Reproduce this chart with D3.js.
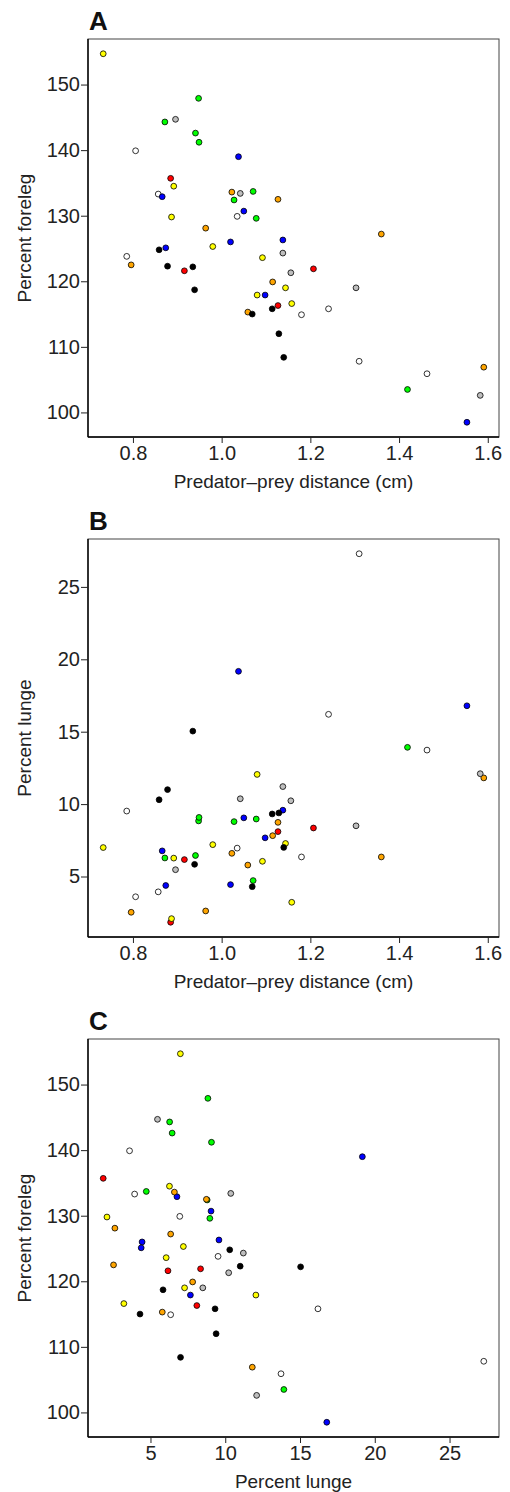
<!DOCTYPE html>
<html>
<head>
<meta charset="utf-8">
<script src="https://cdn.jsdelivr.net/npm/d3@7"></script>
<style>
  body { margin: 0; background: #fff; }
  text { font-family: "Liberation Sans", Arial, sans-serif; }
</style>
</head>
<body>
<script>
// one entry per animal, same order in every array
const distance = [0.733, 0.948, 0.872, 0.896, 0.941, 0.949, 0.806, 1.038, 0.885, 0.892,
  0.857, 0.866, 1.023, 1.042, 1.071, 1.028, 1.127, 1.050, 1.035, 1.078,
  0.887, 0.964, 1.020, 0.980, 1.360, 1.138, 0.786, 0.796, 0.859, 0.874,
  0.878, 0.916, 0.935, 0.939, 1.092, 1.115, 1.080, 1.098, 1.059, 1.069,
  1.114, 1.127, 1.129, 1.138, 1.207, 1.156, 1.144, 1.303, 1.158, 1.241,
  1.180, 1.140, 1.310, 1.591, 1.463, 1.419, 1.583, 1.553];
const foreleg = [154.7, 147.9, 144.3, 144.7, 142.6, 141.2, 139.9, 139.0, 135.7, 134.5,
  133.3, 132.9, 133.6, 133.4, 133.7, 132.4, 132.5, 130.7, 129.9, 129.6,
  129.8, 128.1, 126.0, 125.3, 127.2, 126.3, 123.8, 122.5, 124.8, 125.1,
  122.3, 121.6, 122.2, 118.7, 123.6, 119.9, 117.9, 117.9, 115.3, 115.0,
  115.8, 116.3, 112.0, 124.3, 121.9, 121.3, 119.0, 119.0, 116.6, 115.8,
  114.9, 108.4, 107.8, 106.9, 105.9, 103.5, 102.6, 98.5];
const lunge = [7.0, 8.84, 6.28, 5.47, 6.45, 9.08, 3.6, 19.17, 1.84, 6.27,
  3.94, 6.77, 6.6, 10.37, 4.72, 8.79, 8.74, 9.05, 6.96, 8.97,
  2.09, 2.62, 4.44, 7.2, 6.35, 9.58, 9.52, 2.53, 10.3, 4.38,
  11.0, 6.17, 15.04, 5.84, 6.05, 7.82, 12.05, 7.67, 5.79, 4.3,
  9.32, 8.1, 9.39, 11.21, 8.35, 10.23, 7.28, 8.5, 3.22, 16.2,
  6.35, 7.01, 27.29, 11.81, 13.73, 13.92, 12.1, 16.79];
const group = ["Y","G","G","Gr","G","G","W","B","R","Y",
  "W","B","O","Gr","G","G","O","B","W","G",
  "Y","O","B","Y","O","B","W","O","K","B",
  "K","R","K","K","Y","O","Y","B","O","K",
  "K","R","K","Gr","R","Gr","Y","Gr","Y","W",
  "W","K","W","O","W","G","Gr","B"];
const groupColor = {Y: "#ffff00", G: "#00ff00", Gr: "#bebebe", W: "#ffffff",
  B: "#0000ff", R: "#ff0000", O: "#ffa500", K: "#000000"};

const distTicks = [0.8, 1.0, 1.2, 1.4, 1.6];
const forelegTicks = [100, 110, 120, 130, 140, 150];
const lungeTicks = [5, 10, 15, 20, 25];

const panels = [
  {label: "A", x: distance, y: foreleg, xTicks: distTicks, yTicks: forelegTicks, xFmt: d3.format(".1f"),
   xTitle: "Predator\u2013prey distance (cm)", yTitle: "Percent foreleg"},
  {label: "B", x: distance, y: lunge, xTicks: distTicks, yTicks: lungeTicks, xFmt: d3.format(".1f"),
   xTitle: "Predator\u2013prey distance (cm)", yTitle: "Percent lunge"},
  {label: "C", x: lunge, y: foreleg, xTicks: lungeTicks, yTicks: forelegTicks, xFmt: d3.format("d"),
   xTitle: "Percent lunge", yTitle: "Percent foreleg"}
];

const W = 510, H = 1492;
const left = 88, right = 499, plotH = 398;
const tops = [39, 539, 1039];

const svg = d3.select("body").append("svg").attr("width", W).attr("height", H);

// R style axis range: data extent padded 4% each side
function pad(vals) {
  const [lo, hi] = d3.extent(vals);
  const p = (hi - lo) * 0.04;
  return [lo - p, hi + p];
}

panels.forEach((p, i) => {
  const top = tops[i], bottom = top + plotH;
  const x = d3.scaleLinear().domain(pad(p.x)).range([left, right]);
  const y = d3.scaleLinear().domain(pad(p.y)).range([bottom, top]);
  const g = svg.append("g");

  g.append("rect").attr("x", left).attr("y", top).attr("width", right - left).attr("height", plotH)
    .attr("fill", "none").attr("stroke", "#444").attr("stroke-width", 1);

  const xAxis = g.append("g").attr("transform", `translate(0,${bottom})`)
    .call(d3.axisBottom(x).tickValues(p.xTicks).tickFormat(p.xFmt).tickSize(6).tickPadding(3).tickSizeOuter(0));
  const yAxis = g.append("g").attr("transform", `translate(${left},0)`)
    .call(d3.axisLeft(y).tickValues(p.yTicks).tickSize(7).tickPadding(1).tickSizeOuter(0));
  [xAxis, yAxis].forEach(a => {
    a.select(".domain").attr("stroke", "#000").attr("stroke-width", 1.4);
    a.selectAll(".tick line").attr("stroke", "#222").attr("stroke-width", 1);
    a.selectAll(".tick text").attr("font-size", 20).attr("fill", "#222")
      .style("font-family", "'Liberation Sans', Arial, sans-serif");
  });
  // extend axis lines across the full box
  xAxis.select(".domain").attr("d", `M${left},0H${right}`);
  yAxis.select(".domain").attr("d", `M0,${top}V${bottom}`);

  g.selectAll("circle").data(p.x.map((v, k) => k)).join("circle")
    .attr("cx", k => x(p.x[k]))
    .attr("cy", k => y(p.y[k]))
    .attr("r", 2.9)
    .attr("fill", k => groupColor[group[k]])
    .attr("stroke", "#000")
    .attr("stroke-width", 0.8);

  g.append("text").attr("x", (left + right) / 2).attr("y", bottom + 51)
    .attr("text-anchor", "middle").attr("font-size", 19).attr("fill", "#222").text(p.xTitle);
  g.append("text").attr("transform", `translate(31,${(top + bottom) / 2}) rotate(-90)`)
    .attr("text-anchor", "middle").attr("font-size", 19).attr("fill", "#222").text(p.yTitle);
  g.append("text").attr("x", left + 1).attr("y", top - 9)
    .attr("font-size", 26).attr("font-weight", "bold").attr("fill", "#111").text(p.label);
});
</script>
</body>
</html>
